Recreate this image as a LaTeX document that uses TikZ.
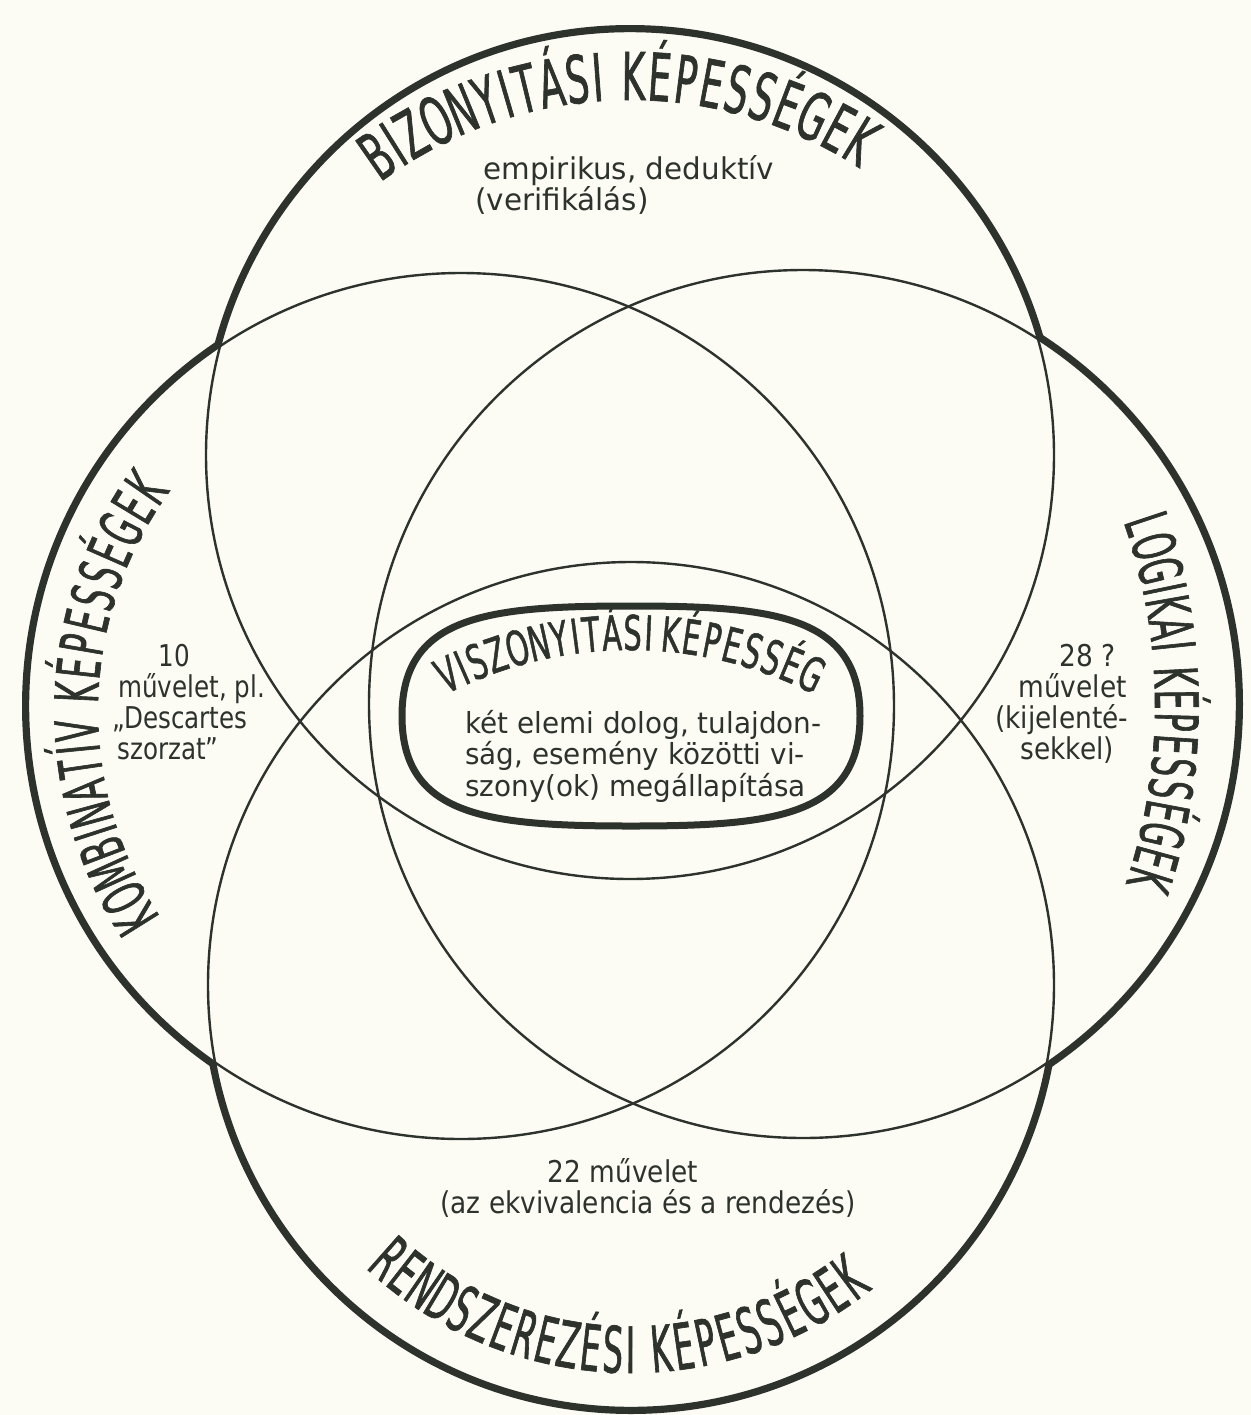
\documentclass[tikz,border=0pt]{standalone}
\usepackage{fontspec}
\setmainfont{DejaVu Sans}
\newfontfamily\capsA[FakeStretch=0.55,FakeBold=1]{DejaVu Sans}
\newfontfamily\capsB[FakeStretch=0.52,FakeBold=1]{DejaVu Sans}
\newfontfamily\capsC[FakeStretch=0.50,FakeBold=1]{DejaVu Sans}
\newfontfamily\capsD[FakeStretch=0.60,FakeBold=1]{DejaVu Sans}
\newfontfamily\notefont[FakeStretch=0.88]{DejaVu Sans}
\newfontfamily\notenarrow[FakeStretch=0.82]{DejaVu Sans}
\newfontfamily\notewide[FakeStretch=0.98]{DejaVu Sans}
\newfontfamily\bodyfont[FakeStretch=0.96]{DejaVu Sans}
\usetikzlibrary{calc}
\definecolor{ink}{RGB}{45,50,45}
\definecolor{paper}{RGB}{252,252,245}
\def\spacemark{x}
% #1 name prefix, #2 font, #3 centre, #4 radius, #5 start angle, #6 degrees per unit,
% #7 rotation base (-90: letters point outward, 90: inward), #8 list letter/width
\newcommand\arcletters[8]{%
  \gdef\accum{0}%
  \foreach \ch/\w [count=\k] in {#8} {%
    \pgfmathsetmacro\ang{#5+#6*(\accum+0.5*\w)}%
    \pgfmathsetmacro\rot{#7-\ang}%
    \ifx\ch\spacemark\else
      \node[text=ink, inner sep=0pt, anchor=base, font=#2, rotate=\rot] (#1\k) at ($(#3)+(\ang:#4)$) {\ch};
    \fi
    \pgfmathsetmacro\tmp{\accum+\w}\global\let\accum\tmp
  }}
\begin{document}
\begin{tikzpicture}[x=0.5pt, y=-0.5pt,
  outer/.style={draw=ink, line width=6pt},
  inner/.style={draw=ink, line width=1.2pt},
  note/.style={text=ink, inner sep=0pt, font=\notefont\fontsize{15}{15.5}\selectfont, align=center},
  body/.style={text=ink, inner sep=0pt, font=\bodyfont\fontsize{14.5}{14.5}\selectfont, align=left}
]
\fill[paper] (0,0) rectangle (1251,1415);
\useasboundingbox (0,0) rectangle (1251,1415);

\coordinate (cT) at (630,455);
\coordinate (cB) at (631,985);
\coordinate (cL) at (461,706);
\coordinate (cR) at (803,704);

% outer thick outline (inner half covered afterwards)
\foreach \c/\r in {cT/424,cB/423,cL/433,cR/434} \draw[outer] (\c) circle (\r);
\foreach \c/\r in {cT/424,cB/423,cL/433,cR/434} \fill[paper] (\c) circle (\r);
\foreach \c/\r in {cT/424,cB/423,cL/433,cR/434} \draw[inner] (\c) circle (\r);

% central shape
\filldraw[fill=paper, draw=ink, line width=3.5pt]
  (860,716) .. controls (860,817) and (773,826) .. (631,826)
  .. controls (489,826) and (402,817) .. (402,716)
  .. controls (402,615) and (489,606) .. (631,606)
  .. controls (773,606) and (860,615) .. (860,716) -- cycle;

% curved titles, letter by letter
\coordinate (aT) at (630,520);
\coordinate (aL) at (470,711);
\coordinate (aR) at (600,706);
\coordinate (aB) at (631,985);
\coordinate (aC) at (630,1053);

\arcletters{top}{\capsA\fontsize{33}{33}\selectfont}{aT}{420}{233.5}{3.40}{-90}
  {B/1,I/.55,Z/1,O/1.12,N/1,Y/1,I/.55,T/1,Á/1,S/1,I/.55,x/.6,K/1,É/1,P/1,E/1,S/1,S/1,É/1,G/1.12,E/1,K/1}
\arcletters{left}{\capsB\fontsize{30}{30}\selectfont}{aL}{372}{146.2}{3.50}{-90}
  {K/1,O/1.12,M/1.12,B/1,I/.55,N/1,A/1,T/1,Í/.55,V/1,x/.6,K/1,É/1,P/1,E/1,S/1,S/1,É/1,G/1.12,E/1,K/1}
\arcletters{right}{\capsB\fontsize{30}{30}\selectfont}{aR}{555}{-19.6}{2.245}{-90}
  {L/1,O/1.12,G/1.12,I/.55,K/1,A/1,I/.55,x/.6,K/1,É/1,P/1,E/1,S/1,S/1,É/1,G/1.12,E/1,K/1}
\arcletters{bottom}{\capsC\fontsize{32}{32}\selectfont}{aB}{388}{133.3}{-3.52}{90}
  {R/1,E/1,N/1,D/1,S/1,Z/1,E/1,R/1,E/1,Z/1,É/1,S/1,I/.55,x/.6,K/1,É/1,P/1,E/1,S/1,S/1,É/1,G/1.12,E/1,K/1}
\arcletters{mid}{\capsD\fontsize{24}{24}\selectfont}{aC}{403}{242.8}{2.835}{-90}
  {V/1,I/.55,S/1,Z/1,O/1.12,N/1,Y/1,I/.55,T/1,Á/1,S/1,I/.55,x/.3,K/1,É/1,P/1,E/1,S/1,S/1,É/1,G/1.12}

% notes
\node[note, font=\notewide\fontsize{15}{15.5}\selectfont, align=left, anchor=north west] (empir) at (475,155)
  {\hspace*{4pt}empirikus, deduktív\\(verifikálás)};
\node[note, font=\notenarrow\fontsize{15}{15.5}\selectfont, align=left, anchor=north west] (ten) at (112,644)
  {\hspace*{23pt}10\\\hspace*{3pt}művelet, pl.\\„Descartes\\\hspace*{2.5pt}szorzat”};
\node[note, align=left, anchor=north west] (twentyeight) at (995,644)
  {\hspace*{32pt}28 ?\\\hspace*{11.5pt}művelet\\(kijelenté-\\\hspace*{12.5pt}sekkel)};
\node[note] (twentytwo) at (648,1188) {22 művelet\hspace*{25pt}\\(az ekvivalencia és a rendezés)};
\node[body, anchor=north west] (rel) at (465,710)
  {két elemi dolog, tulajdon-\\ság, esemény közötti vi-\\szony(ok) megállapítása};
\end{tikzpicture}
\end{document}
